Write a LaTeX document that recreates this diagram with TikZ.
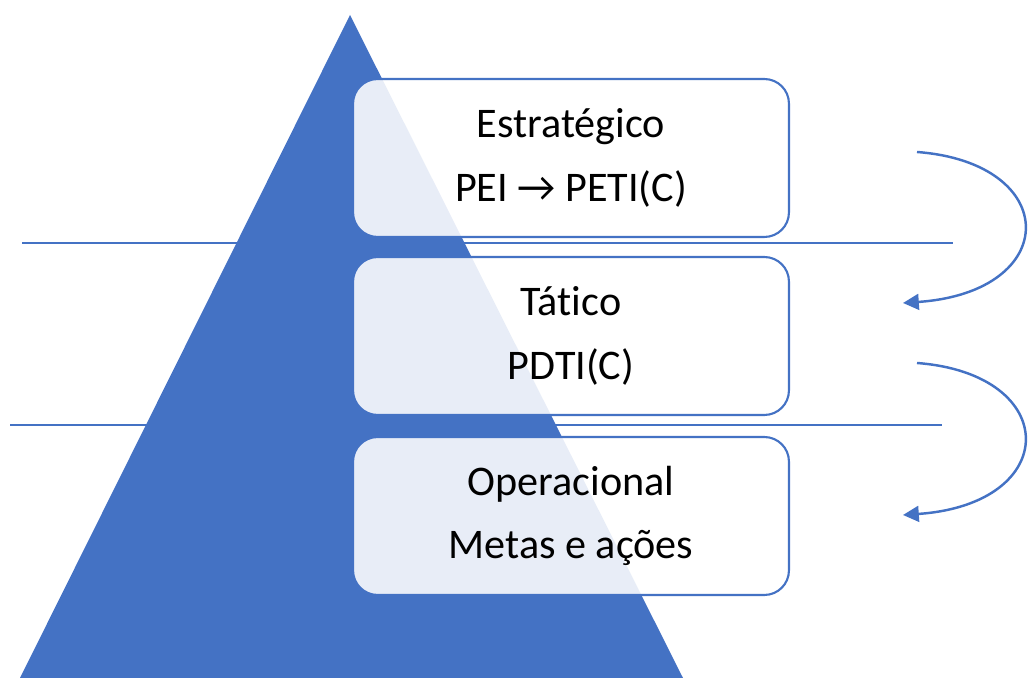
\documentclass[tikz,border=0pt]{standalone}
\usepackage{fontspec}
\setmainfont[Ligatures=NoCommon]{Carlito}
\usepackage{tikz}
\definecolor{pyrblue}{HTML}{4472C4}

\tikzset{
  level/.style={draw=pyrblue,line width=1.2pt,fill=white,fill opacity=0.88,text opacity=1,
    rounded corners=14pt,minimum width=8.72cm,minimum height=3.16cm,align=center,
    font=\fontsize{24}{36}\selectfont},
  sep/.style={pyrblue,line width=1.1pt},
  cycle/.style={pyrblue,line width=1.4pt,-{Triangle[length=9pt,width=9pt]}}
}
\usetikzlibrary{arrows.meta}

\begin{document}
\begin{tikzpicture}[x=0.02cm,y=-0.02cm]
  \useasboundingbox (0,0) rectangle (1029,678);

  % separators behind the pyramid
  \coordinate (s1a) at (22,243);  \coordinate (s1b) at (953,243);
  \coordinate (s2a) at (10,425);  \coordinate (s2b) at (942,425);
  \draw[sep] (s1a) -- (s1b);
  \draw[sep] (s2a) -- (s2b);

  % pyramid
  \fill[pyrblue] (350,15) -- (683,678) -- (20,678) -- cycle;

  % levels
  \node[level] (estr) at (571,158) {Estratégico\\PEI → PETI(C)};
  \node[level] (tat)  at (571,336) {Tático\\PDTI(C)};
  \node[level] (oper) at (571,516) {Operacional\\Metas e ações};

  % cycle arrows
  \coordinate (a1) at (917,152);  \coordinate (b1) at (903,303);
  \coordinate (a2) at (917,363);  \coordinate (b2) at (903,515);
  \draw[cycle] (a1) .. controls (1062,163) and (1062,292) .. (b1);
  \draw[cycle] (a2) .. controls (1062,374) and (1062,504) .. (b2);
\end{tikzpicture}
\end{document}
